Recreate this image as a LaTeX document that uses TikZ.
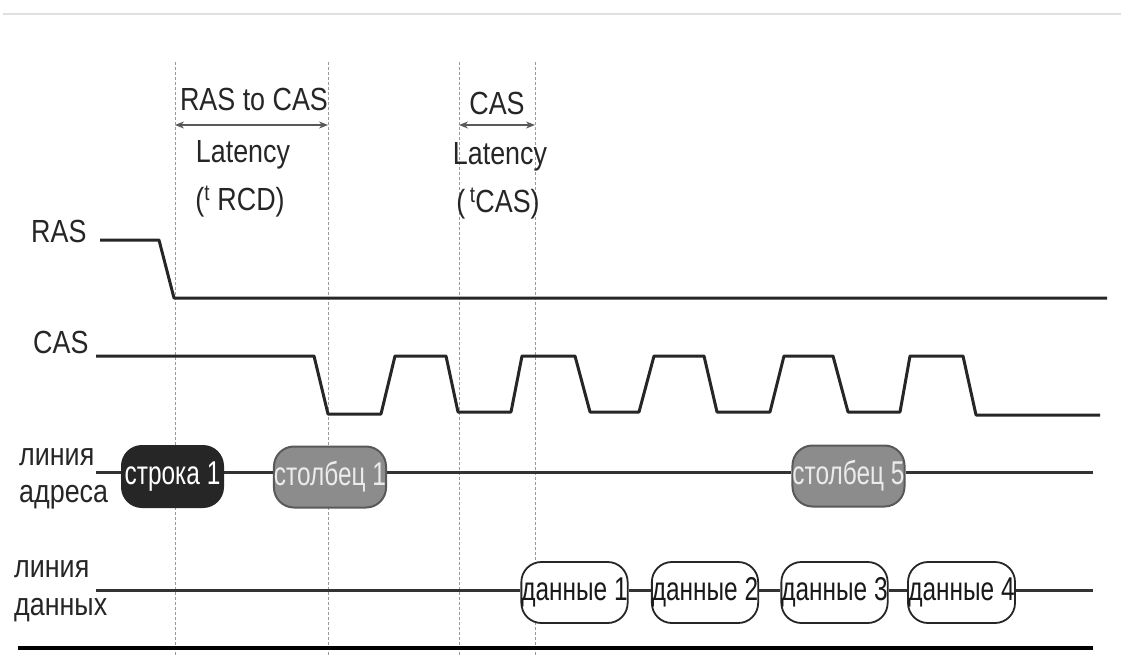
\documentclass[tikz,border=0pt]{standalone}
\usepackage{fontspec}
\setmainfont{Liberation Sans}
\usepackage{graphicx}
\usetikzlibrary{arrows.meta}
\newcommand{\nar}[1]{\scalebox{0.84}[1]{#1}}
\newcommand{\pnar}[1]{\scalebox{0.74}[1]{#1}}
\begin{document}
\begin{tikzpicture}[x=1pt,y=-1pt,
  lbl/.style={inner sep=0pt, anchor=base, font=\fontsize{32}{34}\selectfont, text=black!85},
  lbll/.style={lbl, anchor=base west},
  wave/.style={line width=3pt, draw=black!85, line join=round},
  bus/.style={line width=3pt, draw=black!80},
  guide/.style={line width=0.9pt, draw=black!40, densely dashed},
  pill/.style={shape=rectangle, rounded corners=20pt, minimum height=61pt, inner sep=0pt, line width=2pt, font=\fontsize{33}{35}\selectfont},
  rowpill/.style={pill, fill=black!85, draw=black!85, text=white},
  colpill/.style={pill, fill=black!45, draw=black!65, text=black!8},
  datapill/.style={pill, fill=white, draw=black!85, text=black!90, line width=1.8pt},
  span/.style={{Stealth[length=9pt,width=7pt]}-{Stealth[length=9pt,width=7pt]}, line width=2.5pt, draw=black!65}
]
\useasboundingbox (0,0) rectangle (1121,661);
\fill[white] (0,0) rectangle (1121,661);
% top rule
\coordinate (tl) at (3,14);
\coordinate (tr) at (1121,14);
\draw[black!12, line width=2pt] (tl) -- (tr);
% guides
\foreach \x/\n in {175/g1,328/g2,459/g3,535/g4}{
  \coordinate (\n t) at (\x,62);
  \coordinate (\n b) at (\x,655);
  \draw[guide] (\n t) -- (\n b);
}
% top annotations
\node[lbl] (rastocas) at (254,110) {\nar{RAS to CAS}};
\node[lbl] (lat1) at (243,162) {\nar{Latency}};
\node[lbl] (trcd) at (240,210) {\nar{(\textsuperscript{t} RCD)}};
\node[lbl] (cas2) at (497,114) {\nar{CAS}};
\node[lbl] (lat2) at (500,164) {\nar{Latency}};
\node[lbl] (tcas) at (498,212) {\nar{(\,\textsuperscript{t}CAS)}};
\coordinate (a1) at (175,125);
\coordinate (a2) at (328,125);
\coordinate (a3) at (459,125);
\coordinate (a4) at (535,125);
\draw[span] (a1) -- (a2);
\draw[span] (a3) -- (a4);
% left labels
\node[lbll] (ras) at (31,242) {\nar{RAS}};
\node[lbll] (cas) at (33,353) {\nar{CAS}};
\node[lbll] (la1) at (19,465) {\nar{линия}};
\node[lbll] (la2) at (19,502) {\nar{адреса}};
\node[lbll] (ld1) at (14,577) {\nar{линия}};
\node[lbll] (ld2) at (14,615) {\nar{данных}};
% RAS wave
\coordinate (rs) at (100,240);
\coordinate (re) at (1107,298);
\draw[wave] (rs) -- (159,240) -- (174,298) -- (re);
% CAS wave
\coordinate (cs) at (96,356);
\coordinate (ce) at (1100,415);
\draw[wave] (cs) -- (314,356) -- (328,414) -- (381,414) -- (395,356) -- (446,356)
  -- (458,412) -- (511,412) -- (522,356) -- (575,356) -- (590,412) -- (639,412)
  -- (654,356) -- (704,356) -- (717,412) -- (770,412) -- (784,356) -- (833,356)
  -- (848,412) -- (900,412) -- (910,356) -- (963,356) -- (976,415) -- (ce);
% address bus
\node[rowpill, minimum width=101pt] (row1) at (172.5,476.5) {\pnar{строка 1}};
\node[colpill, minimum width=104pt] (col1) at (330,477) {\pnar{столбец 1}};
\node[colpill, minimum width=103pt] (col5) at (848.5,476) {\pnar{столбец 5}};
\coordinate (as) at (96,472);
\coordinate (ae) at (1093,472);
\draw[bus] (as) -- (as -| row1.west);
\draw[bus] (as -| row1.east) -- (as -| col1.west);
\draw[bus] (as -| col1.east) -- (as -| col5.west);
\draw[bus] (as -| col5.east) -- (ae);
% data bus
\node[datapill, minimum width=105pt] (d1) at (574.5,592.5) {\pnar{данные 1}};
\node[datapill, minimum width=106pt] (d2) at (705,592.5) {\pnar{данные 2}};
\node[datapill, minimum width=103pt] (d3) at (834.5,592.5) {\pnar{данные 3}};
\node[datapill, minimum width=107pt] (d4) at (961.5,592.5) {\pnar{данные 4}};
\coordinate (ds) at (96,590);
\coordinate (de) at (1093,590);
\draw[bus] (ds) -- (ds -| d1.west);
\draw[bus] (ds -| d1.east) -- (ds -| d2.west);
\draw[bus] (ds -| d2.east) -- (ds -| d3.west);
\draw[bus] (ds -| d3.east) -- (ds -| d4.west);
\draw[bus] (ds -| d4.east) -- (de);
% bottom rule
\coordinate (bl) at (18,648);
\coordinate (br) at (1093,648);
\draw[line width=4pt, black] (bl) -- (br);
\end{tikzpicture}
\end{document}
